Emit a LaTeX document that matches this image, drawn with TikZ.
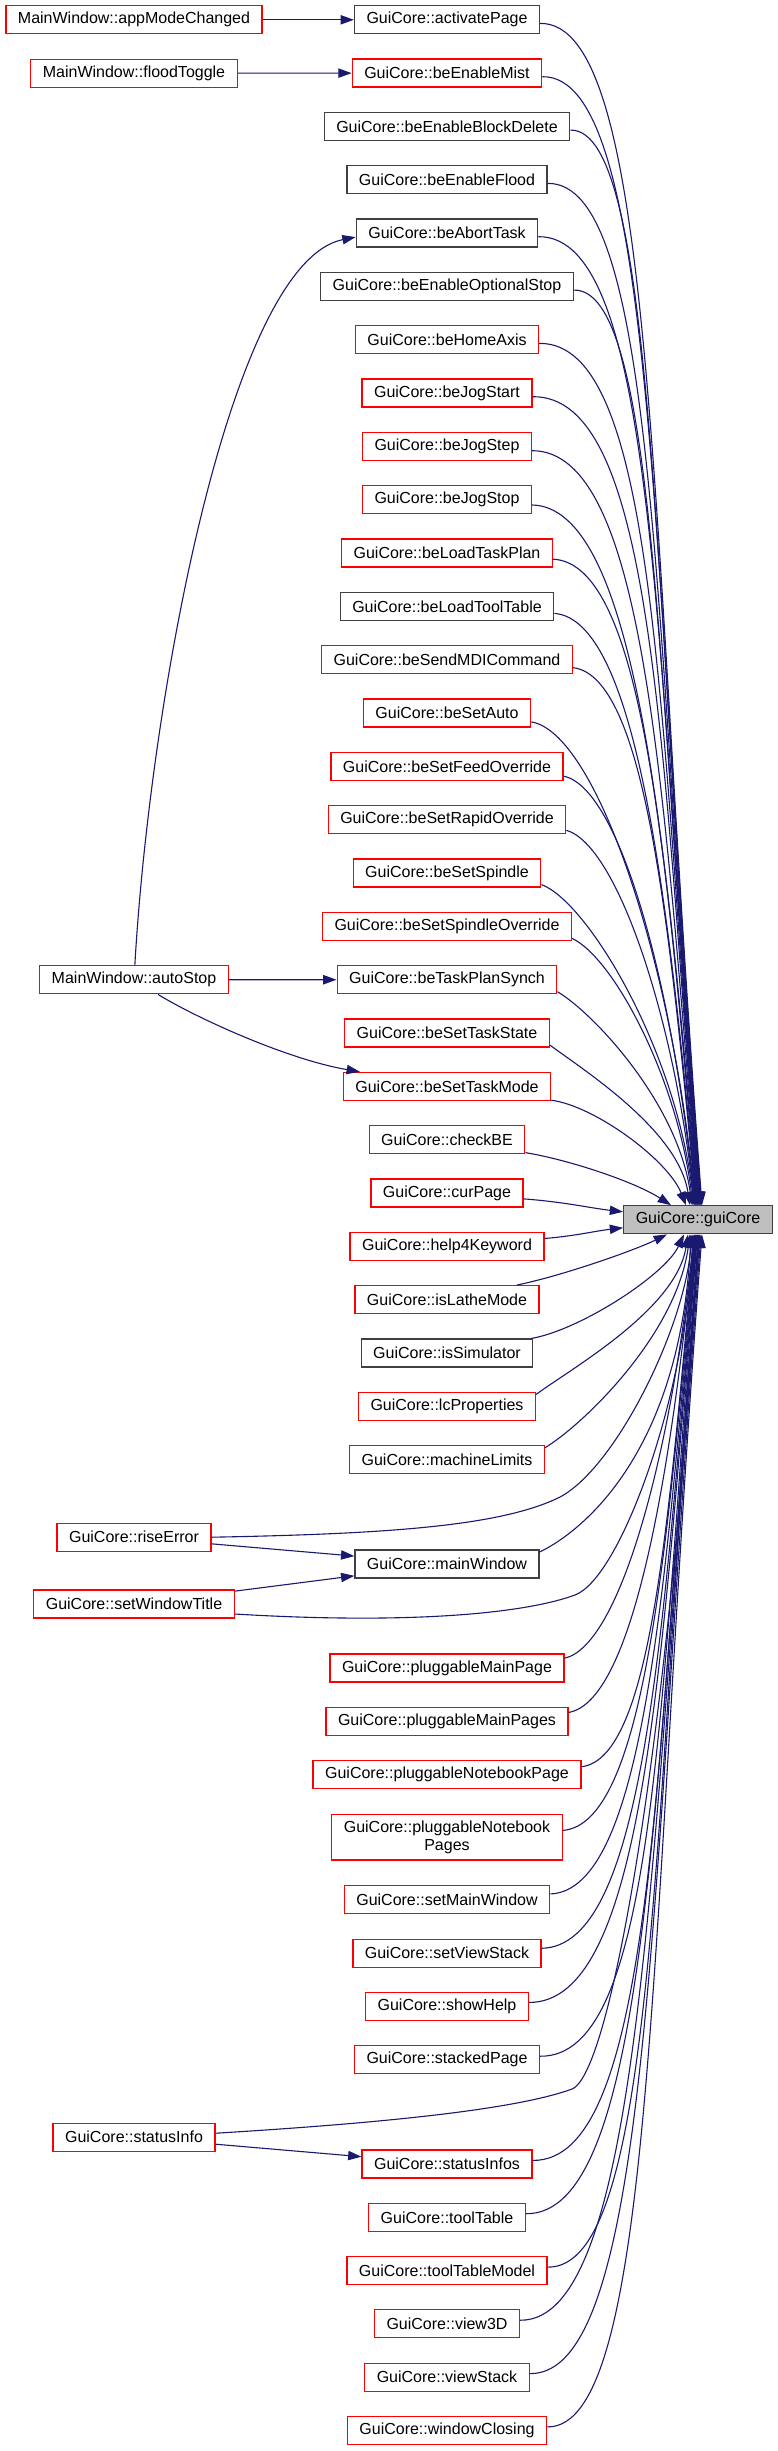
\documentclass[tikz,border=0pt]{standalone}
\usepackage{fontspec}
\setmainfont{Liberation Sans}
\usetikzlibrary{arrows.meta}
\definecolor{edgec}{HTML}{191970}
\definecolor{redc}{HTML}{FF0000}
\definecolor{blkc}{HTML}{404040}
\definecolor{gcfill}{HTML}{BFBFBF}
\tikzset{
 box/.style={draw, line width=1.3pt, inner xsep=12pt, inner ysep=0pt, minimum height=28pt, font=\fontsize{16}{17.3}\selectfont},
 rbox/.style={box, draw=redc},
 kbox/.style={box, draw=blkc},
 conn/.style={draw=edgec, line width=1.1pt, -{Triangle[length=13.3pt,width=9.3pt]}}
}
\newcommand\gcup[2]{%
  \path (#1.east); \pgfgetlastxy{\gcEx}{\gcEy}%
  \pgfmathsetmacro\gcXr{\gcEx}%
  \pgfmathsetmacro\gcYc{-\gcEy}%
  \pgfmathsetmacro\gcD{1206-\gcYc}%
  \pgfmathsetmacro\gcF{min(1,\gcD/800)}%
  \pgfmathsetmacro\gcA{30+90*\gcF*\gcF}%
  \pgfmathsetmacro\gcB{2+45*(1-\gcF)}%
  \pgfmathsetmacro\gcS{min(3+0.3*\gcB,12)}%
  \pgfmathsetmacro\gcPx{min(\gcXr+\gcA,655)}%
  \pgfmathsetmacro\gcPy{\gcYc+\gcB}%
  \pgfmathsetmacro\gcQx{698+#2-0.04*\gcD-5}%
  \pgfmathsetmacro\gcQy{1206-\gcD*(0.4+0.18*\gcF)}%
  \draw[conn] ([shift={(0,\gcS)}]#1.east) .. controls (\gcPx,\gcPy) and (\gcQx,\gcQy) .. ([shift={(#2,0)}]gc.north);
}
\newcommand\gcdn[2]{%
  \path (#1.east); \pgfgetlastxy{\gcEx}{\gcEy}%
  \pgfmathsetmacro\gcXr{\gcEx}%
  \pgfmathsetmacro\gcYc{-\gcEy}%
  \pgfmathsetmacro\gcD{\gcYc-1234}%
  \pgfmathsetmacro\gcF{min(1,\gcD/800)}%
  \pgfmathsetmacro\gcA{30+90*\gcF*\gcF}%
  \pgfmathsetmacro\gcB{2+45*(1-\gcF)}%
  \pgfmathsetmacro\gcS{min(3+0.3*\gcB,12)}%
  \pgfmathsetmacro\gcPx{min(\gcXr+\gcA,655)}%
  \pgfmathsetmacro\gcPy{\gcYc-\gcB}%
  \pgfmathsetmacro\gcQx{698+#2-0.04*\gcD-5}%
  \pgfmathsetmacro\gcQy{1234+\gcD*(0.4+0.18*\gcF)}%
  \draw[conn] ([shift={(0,-\gcS)}]#1.east) .. controls (\gcPx,\gcPy) and (\gcQx,\gcQy) .. ([shift={(#2,0)}]gc.south);
}
\begin{document}
\begin{tikzpicture}[x=1pt,y=-1pt]
\fill[white] (0,0) rectangle (777,2451);
\useasboundingbox (0,0) rectangle (777,2451);
% left column
\node[rbox] (ap) at (134,19.8) {MainWindow::appModeChanged};
\node[rbox] (ft) at (134,73.2) {MainWindow::floodToggle};
\node[rbox] (as) at (134,979.8) {MainWindow::autoStop};
\node[rbox] (re) at (134,1537.2) {GuiCore::riseError};
\node[rbox] (swt) at (134,1604) {GuiCore::setWindowTitle};
\node[rbox] (si) at (134,2137.2) {GuiCore::statusInfo};
% middle column
\node[kbox] (apg) at (447,19.8) {GuiCore::activatePage};
\node[rbox] (bem) at (447,73.1) {GuiCore::beEnableMist};
\node[kbox] (bebd) at (447,126.5) {GuiCore::beEnableBlockDelete};
\node[kbox] (bef) at (447,179.8) {GuiCore::beEnableFlood};
\node[kbox] (bat) at (447,233.1) {GuiCore::beAbortTask};
\node[kbox] (beos) at (447,286.5) {GuiCore::beEnableOptionalStop};
\node[rbox] (bha) at (447,339.8) {GuiCore::beHomeAxis};
\node[rbox] (bjsa) at (447,393.1) {GuiCore::beJogStart};
\node[rbox] (bjse) at (447,446.4) {GuiCore::beJogStep};
\node[rbox] (bjso) at (447,499.8) {GuiCore::beJogStop};
\node[rbox] (bltp) at (447,553.1) {GuiCore::beLoadTaskPlan};
\node[kbox] (bltt) at (447,606.4) {GuiCore::beLoadToolTable};
\node[rbox] (bsmdi) at (447,659.8) {GuiCore::beSendMDICommand};
\node[rbox] (bsa) at (447,713.1) {GuiCore::beSetAuto};
\node[rbox] (bsfo) at (447,766.4) {GuiCore::beSetFeedOverride};
\node[rbox] (bsro) at (447,819.7) {GuiCore::beSetRapidOverride};
\node[rbox] (bss) at (447,873.1) {GuiCore::beSetSpindle};
\node[rbox] (bsso) at (447,926.4) {GuiCore::beSetSpindleOverride};
\node[rbox] (btps) at (447,979.7) {GuiCore::beTaskPlanSynch};
\node[rbox] (bsts) at (447,1033.1) {GuiCore::beSetTaskState};
\node[rbox] (bstm) at (447,1086.4) {GuiCore::beSetTaskMode};
\node[rbox] (cbe) at (447,1139.7) {GuiCore::checkBE};
\node[rbox] (cp) at (447,1193.1) {GuiCore::curPage};
\node[rbox] (h4k) at (447,1246.4) {GuiCore::help4Keyword};
\node[rbox] (ilm) at (447,1299.7) {GuiCore::isLatheMode};
\node[kbox] (isim) at (447,1353.1) {GuiCore::isSimulator};
\node[rbox] (lcp) at (447,1406.4) {GuiCore::lcProperties};
\node[rbox] (ml) at (447,1459.7) {GuiCore::machineLimits};
\node[kbox] (mw) at (447,1564) {GuiCore::mainWindow};
\node[rbox] (pmp) at (447,1668) {GuiCore::pluggableMainPage};
\node[rbox] (pmps) at (447,1721.3) {GuiCore::pluggableMainPages};
\node[rbox] (pnp) at (447,1774.7) {GuiCore::pluggableNotebookPage};
\node[rbox, minimum height=45.3pt, align=center] (pnps) at (447,1837.3) {GuiCore::pluggableNotebook\\Pages};
\node[rbox] (smw) at (447,1899.8) {GuiCore::setMainWindow};
\node[rbox] (svs) at (447,1953.2) {GuiCore::setViewStack};
\node[rbox] (sh) at (447,2006.5) {GuiCore::showHelp};
\node[rbox] (stp) at (447,2059.8) {GuiCore::stackedPage};
\node[rbox] (sis) at (447,2164) {GuiCore::statusInfos};
\node[rbox] (tt) at (447,2217.3) {GuiCore::toolTable};
\node[rbox] (ttm) at (447,2270.7) {GuiCore::toolTableModel};
\node[rbox] (v3) at (447,2323.8) {GuiCore::view3D};
\node[rbox] (vs) at (447,2377.2) {GuiCore::viewStack};
\node[rbox] (wc) at (447,2430.5) {GuiCore::windowClosing};
% target
\node[box, draw=blkc, fill=gcfill] (gc) at (698,1219.8) {GuiCore::guiCore};
% left-to-middle edges
\draw[conn] (ap) -- (apg);
\draw[conn] (ft) -- (bem);
\draw[conn] (as) -- (btps);
\draw[conn] (as) .. controls (150,700) and (230,262) .. ([shift={(0,4)}]bat.west);
\draw[conn] (as) .. controls (200,1020) and (290,1060) .. (bstm);
\draw[conn] (re) -- (mw);
\draw[conn] (swt) -- (mw);
\draw[conn] (si) -- (sis);
% long edges to guiCore
\draw[conn] (re.east) .. controls (380,1534) and (500,1527) .. (560,1497) .. controls (615,1468) and (684,1330) .. ([shift={(-6,0)}]gc.south);
\draw[conn] ([shift={(0,10)}]swt.east) .. controls (400,1624) and (520,1615) .. (575,1595) .. controls (620,1578) and (685,1400) .. ([shift={(-5,0)}]gc.south);
\draw[conn] ([shift={(0,-4)}]si.east) .. controls (400,2122) and (520,2108) .. (572,2089) .. controls (615,2072) and (675,1680) .. ([shift={(0,0)}]gc.south);
% upper edges
\gcup{apg}{4}
\gcup{bem}{3.5}
\gcup{bebd}{3}
\gcup{bef}{2.5}
\gcup{bat}{2}
\gcup{beos}{1.5}
\gcup{bha}{1}
\gcup{bjsa}{0.5}
\gcup{bjse}{0}
\gcup{bjso}{-0.5}
\gcup{bltp}{-1}
\gcup{bltt}{-1.5}
\gcup{bsmdi}{-2}
\gcup{bsa}{-2.5}
\gcup{bsfo}{-3}
\gcup{bsro}{-3.5}
\gcup{bss}{-4}
\gcup{bsso}{-5}
\gcup{btps}{-6}
\gcup{bsts}{-8}
\draw[conn] (bstm) .. controls (595,1106) and (668,1160) .. ([shift={(-12,0)}]gc.north);
\draw[conn] (cbe) .. controls (570,1160) and (635,1182) .. ([shift={(-27,0)}]gc.north);
\draw[conn] (cp) .. controls (565,1202) and (590,1208) .. ([shift={(0,-8)}]gc.west);
\draw[conn] (h4k) .. controls (575,1236) and (595,1231) .. ([shift={(0,8)}]gc.west);
% lower edges
\draw[conn] (ilm) .. controls (565,1275) and (635,1250) .. ([shift={(-31,0)}]gc.south);
\draw[conn] (isim) .. controls (580,1330) and (665,1275) .. ([shift={(-14,0)}]gc.south);
\gcdn{lcp}{-10}
\gcdn{ml}{-8}
\draw[conn] ([shift={(0,-12)}]mw.east) .. controls (585,1530) and (680,1450) .. ([shift={(-7,0)}]gc.south);
\gcdn{pmp}{-4}
\gcdn{pmps}{-3.5}
\gcdn{pnp}{-3}
\gcdn{pnps}{-2.5}
\gcdn{smw}{-2}
\gcdn{svs}{-1.5}
\gcdn{sh}{-1}
\gcdn{stp}{-0.5}
\gcdn{sis}{0.5}
\gcdn{tt}{1}
\gcdn{ttm}{1.5}
\gcdn{v3}{2}
\gcdn{vs}{3}
\gcdn{wc}{4}
\end{tikzpicture}
\end{document}
